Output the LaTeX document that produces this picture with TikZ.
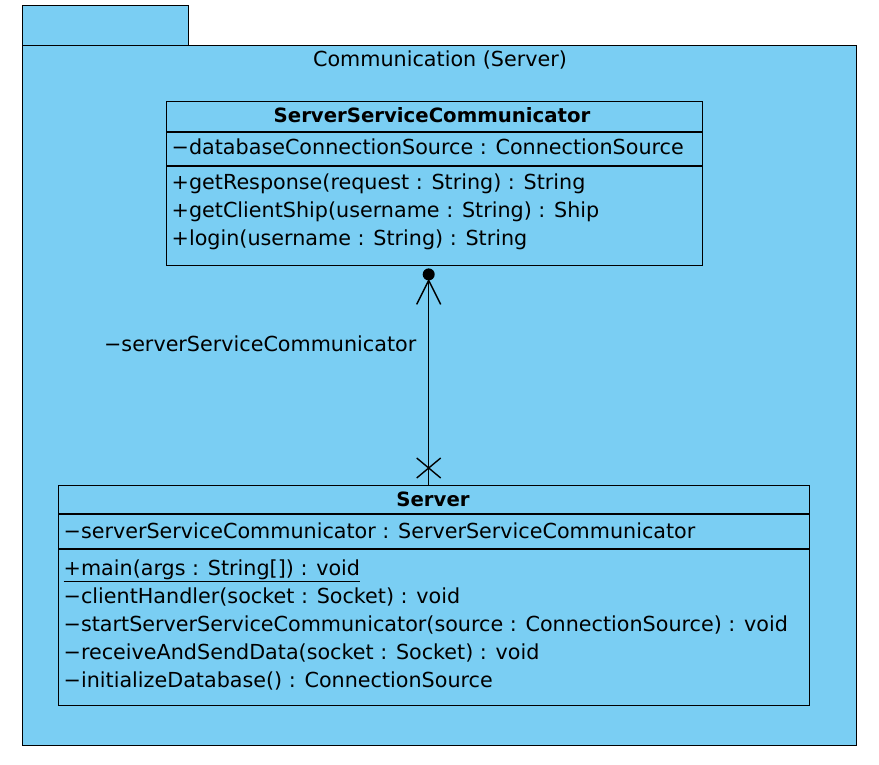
\documentclass[tikz,border=0pt]{standalone}
\usepackage{fontspec}
\setmainfont{DejaVu Sans}
\usetikzlibrary{calc}
\definecolor{pkgblue}{RGB}{122,206,243}

\begin{document}
\begin{tikzpicture}
  [x=1pt,y=-1pt,line width=1.4pt,
   every node/.style={inner sep=0pt,font=\fontsize{20.7}{24}\selectfont},
   box/.style={draw,fill=pkgblue,anchor=north west},
   cname/.style={anchor=base,font=\fontsize{19.7}{24}\selectfont\bfseries},
   txt/.style={anchor=base west}]

  \useasboundingbox (0,0) rectangle (879,765);

  % package
  \node[box,minimum width=166pt,minimum height=40pt] (tab) at (22,5) {};
  \node[box,minimum width=834pt,minimum height=700pt] (pkg) at (22,45) {};
  \node[anchor=base] (title) at (440,67) {Communication (Server)};

  % ServerServiceCommunicator
  \node[box,minimum width=536pt,minimum height=164pt] (ssc) at (166,101) {};
  \draw ([yshift=-31pt]ssc.north west) -- ([yshift=-31pt]ssc.north east);
  \draw ([yshift=-65pt]ssc.north west) -- ([yshift=-65pt]ssc.north east);
  \node[cname] (sscname) at (432,123) {ServerServiceCommunicator};
  \node[txt] (sscattr) at (171,155) {−databaseConnectionSource : ConnectionSource};
  \foreach \y/\t in {190/+getResponse(request : String) : String,
                     218/+getClientShip(username : String) : Ship,
                     246/+login(username : String) : String}
    \node[txt] (sscop\y) at (171,\y) {\t};

  % Server
  \node[box,minimum width=751pt,minimum height=220pt] (srv) at (58,485) {};
  \draw ([yshift=-29pt]srv.north west) -- ([yshift=-29pt]srv.north east);
  \draw ([yshift=-64pt]srv.north west) -- ([yshift=-64pt]srv.north east);
  \node[cname] (srvname) at (433,506) {Server};
  \node[txt] (srvattr) at (63,538) {−serverServiceCommunicator : ServerServiceCommunicator};
  \node[txt] (srvmain) at (63,575) {\underline{+main(args : String[]) : void}};
  \foreach \y/\t in {603/−clientHandler(socket : Socket) : void,
                     631/−startServerServiceCommunicator(source : ConnectionSource) : void,
                     659/−receiveAndSendData(socket : Socket) : void,
                     687/−initializeDatabase() : ConnectionSource}
    \node[txt] (srvop\y) at (63,\y) {\t};

  % association
  \coordinate (a) at ([xshift=-6pt]ssc.south);
  \coordinate (b) at (a |- srv.north);
  \draw (b) -- ($(a)+(0,14)$);
  \fill ($(a)+(0,8)$) circle (6pt);
  \draw ($(a)+(-12,38)$) -- ($(a)+(0,14)$) -- ($(a)+(12,38)$);
  \draw ($(b)+(-12,-27)$) -- ($(b)+(12,-7)$);
  \draw ($(b)+(-12,-7)$) -- ($(b)+(12,-27)$);
  \node[anchor=base east] (role) at (417,351) {−serverServiceCommunicator};
\end{tikzpicture}
\end{document}
